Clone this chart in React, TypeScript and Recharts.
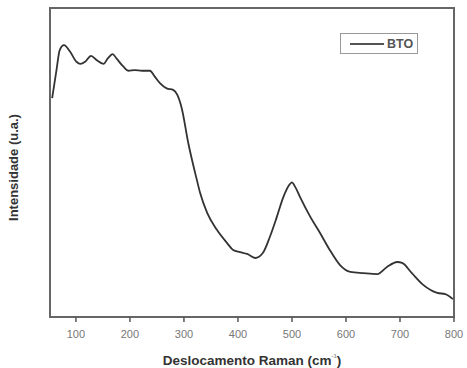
import { Label, Legend, Line, LineChart, ReferenceArea, XAxis, YAxis } from "recharts";

const ramanShift = [
  56, 64, 70, 78, 89, 101, 108, 117, 128, 138, 151, 159, 168, 175, 188, 197, 209, 222, 237, 246,
  256, 268, 280, 288, 296, 308, 324, 330, 343, 361, 380, 391, 404, 417, 432, 446, 459, 472, 484,
  496, 500, 506, 515, 534, 552, 570, 589, 608, 632, 658, 676, 695, 704, 722, 743, 769, 784, 798,
];
const intensity = [
  70.8, 79.9, 86.4, 88.0, 85.9, 82.6, 81.9, 82.6, 84.5, 83.2, 81.9, 83.7, 85.1, 83.7, 81.0, 79.7,
  79.9, 79.7, 79.7, 77.8, 75.6, 74.0, 73.5, 71.8, 67.5, 56.3, 44.3, 40.1, 33.7, 28.2, 23.9, 21.7,
  21.0, 20.4, 19.1, 20.7, 25.9, 32.4, 38.8, 43.0, 43.6, 42.1, 38.8, 32.4, 27.2, 21.7, 16.8, 14.6,
  14.2, 13.9, 16.2, 17.8, 17.5, 14.2, 10.4, 7.8, 7.4, 5.8,
];
const xTicks = [100, 200, 300, 400, 500, 600, 700, 800];
const seriesName = "BTO";

const font = "'Liberation Sans', Arial, sans-serif";
const frameColor = "#666";
const lineColor = "#333";

const data = ramanShift.map((x, i) => ({ x, y: intensity[i] }));

function LegendBox() {
  return (
    <div
      style={{
        border: "1.5px solid #999",
        width: 78,
        height: 21,
        display: "flex",
        alignItems: "center",
        boxSizing: "border-box",
        fontFamily: font,
        fontWeight: "bold",
        fontSize: 12.5,
        color: "#555",
      }}
    >
      <svg width={46} height={10}>
        <line x1={9} y1={5} x2={43} y2={5} stroke="#555" strokeWidth={1.8} />
      </svg>
      <span>{seriesName}</span>
    </div>
  );
}

export default function App() {
  return (
    <div style={{ position: "absolute", left: 0, top: 0, background: "#fff" }}>
      <LineChart width={467} height={368} data={data} margin={{ top: 8, right: 13, bottom: 0, left: 8 }}>
        <XAxis
          dataKey="x"
          type="number"
          domain={[52, 800]}
          ticks={xTicks}
          allowDataOverflow
          axisLine={false}
          tickLine={{ stroke: "#555", strokeWidth: 1.5 }}
          tickSize={5}
          tickMargin={8}
          height={51}
          tick={{ fill: "#777", fontSize: 11, fontFamily: font }}
        >
          <Label
            content={({ viewBox }: any) => (
              <text
                x={viewBox.x + viewBox.width / 2}
                y={viewBox.y + 48}
                textAnchor="middle"
                fontFamily={font}
                fontWeight="bold"
                fontSize={13.5}
                fill="#333"
              >
                Deslocamento Raman (cm
                <tspan dy={-7} fontSize={6} fill="#999">-1</tspan>
                <tspan dy={7}>)</tspan>
              </text>
            )}
          />
        </XAxis>
        <YAxis
          type="number"
          domain={[0, 100]}
          width={42}
          tick={false}
          axisLine={false}
          tickLine={false}
        >
          <Label
            content={({ viewBox }: any) => {
              const cx = viewBox.x + 5;
              const cy = viewBox.y + viewBox.height / 2 + 5;
              return (
                <text
                  x={cx}
                  y={cy}
                  transform={`rotate(-90, ${cx}, ${cy})`}
                  textAnchor="middle"
                  dominantBaseline="central"
                  fontFamily={font}
                  fontWeight="bold"
                  fontSize={13}
                  fill="#333"
                >
                  Intensidade (u.a.)
                </text>
              );
            }}
          />
        </YAxis>
        <ReferenceArea
          x1={52}
          x2={800}
          y1={0}
          y2={100}
          fill="none"
          stroke={frameColor}
          strokeWidth={2}
          ifOverflow="visible"
        />
        <Legend
          layout="vertical"
          align="center"
          verticalAlign="middle"
          wrapperStyle={{ top: 33, left: 340, width: 78 }}
          content={() => <LegendBox />}
        />
        <Line
          type="monotone"
          dataKey="y"
          name={seriesName}
          stroke={lineColor}
          strokeWidth={1.8}
          dot={false}
          isAnimationActive={false}
        />
      </LineChart>
    </div>
  );
}
